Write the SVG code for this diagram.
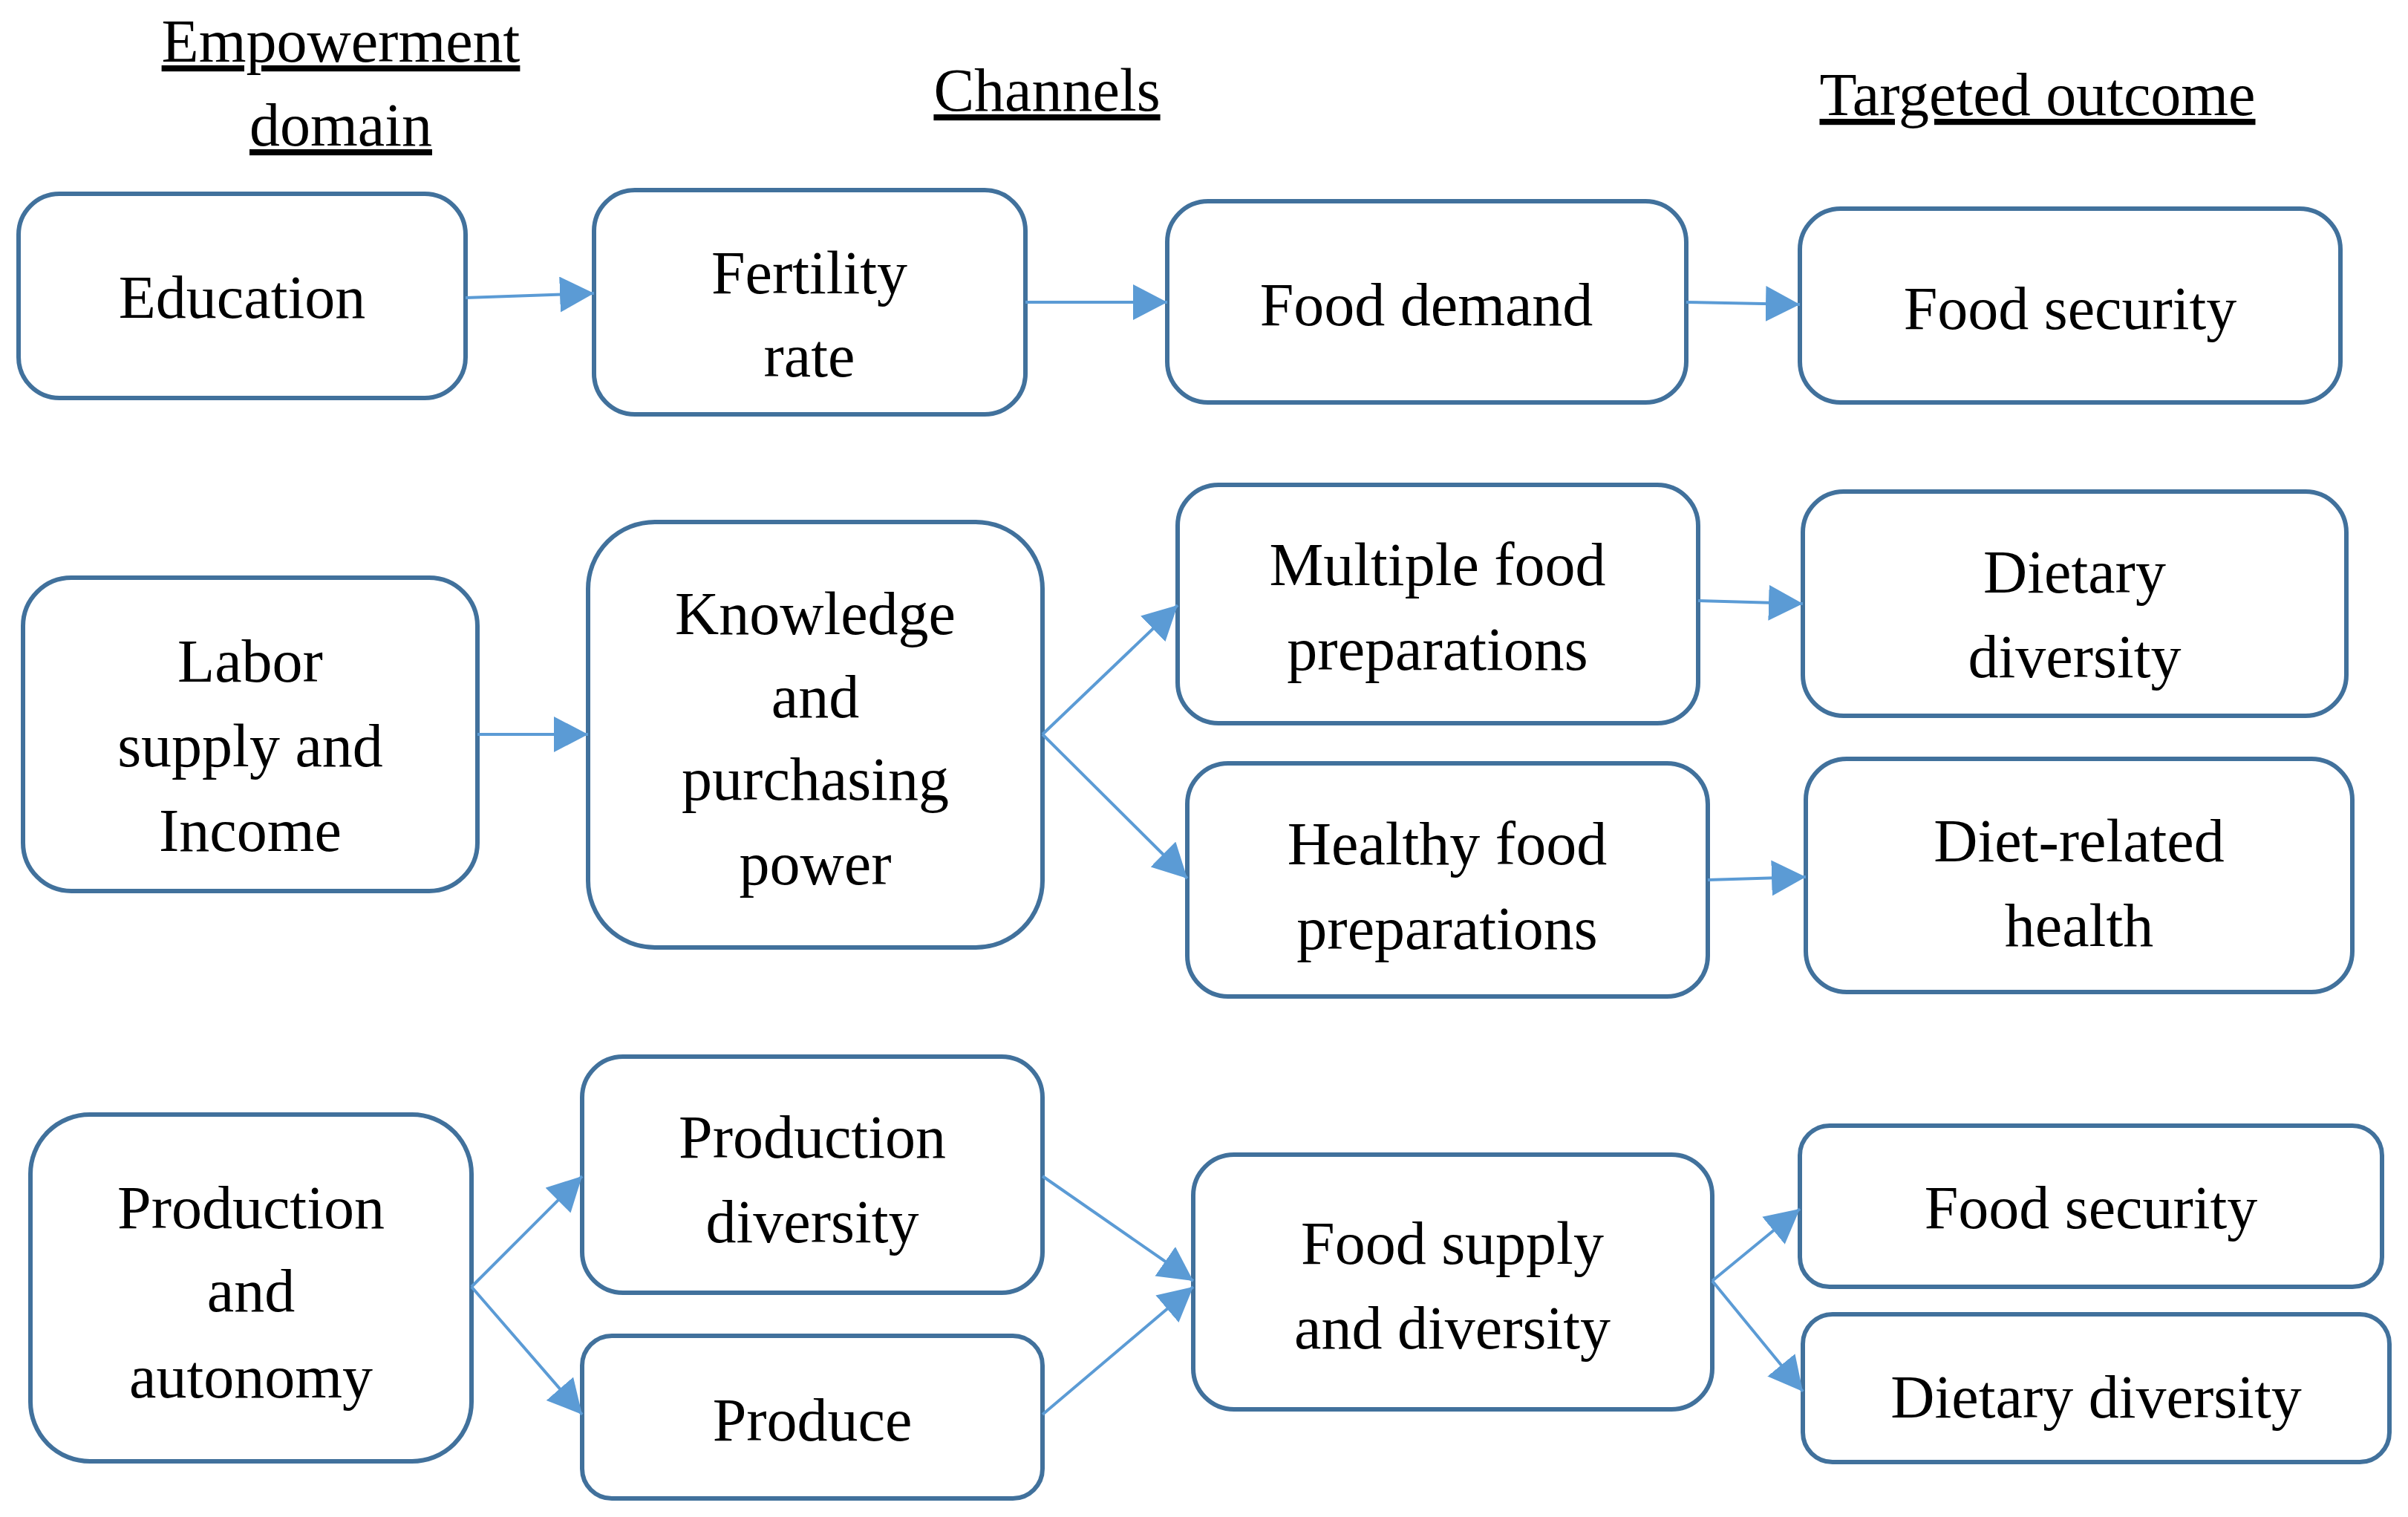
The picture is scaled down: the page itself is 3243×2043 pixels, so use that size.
<svg xmlns="http://www.w3.org/2000/svg" width="3243" height="2043" viewBox="0 0 3243 2043">
<style>
.b{fill:#fff;stroke:#41719c;stroke-width:6}
.t{font-family:"Liberation Serif",serif;font-size:82px;fill:#000;text-anchor:middle}
.h{font-family:"Liberation Serif",serif;font-size:82px;fill:#000;text-anchor:middle;text-decoration:underline}
.c line{stroke:#5b9bd5;stroke-width:4;marker-end:url(#a)}
</style>
<defs><marker id="a" markerUnits="userSpaceOnUse" markerWidth="50" markerHeight="50" refX="46" refY="24" orient="auto"><path d="M0,0L46,24L0,48z" fill="#5b9bd5"/></marker></defs>
<rect width="3243" height="2043" fill="#fff"/>
<g id="headers">
<text class="h" x="459" y="83">Empowerment</text>
<text class="h" x="459" y="196">domain</text>
<text class="h" x="1410" y="149">Channels</text>
<text class="h" x="2744" y="155">Targeted outcome</text>
</g>
<g id="n1"><rect class="b" x="25" y="261" width="602" height="275" rx="55"/><text class="t" x="326" y="428">Education</text></g>
<g id="n2"><rect class="b" x="800" y="256" width="581" height="302" rx="55"/><text class="t" x="1090" y="395">Fertility</text><text class="t" x="1090" y="507">rate</text></g>
<g id="n3"><rect class="b" x="1572" y="271" width="699" height="271" rx="55"/><text class="t" x="1921" y="438">Food demand</text></g>
<g id="n4"><rect class="b" x="2424" y="281" width="728" height="261" rx="55"/><text class="t" x="2788" y="443">Food security</text></g>
<g id="n5"><rect class="b" x="31" y="778" width="612" height="422" rx="65"/><text class="t" x="337" y="918">Labor</text><text class="t" x="337" y="1032">supply and</text><text class="t" x="337" y="1146">Income</text></g>
<g id="n6"><rect class="b" x="792" y="703" width="612" height="573" rx="90"/><text class="t" x="1098" y="854">Knowledge</text><text class="t" x="1098" y="966">and</text><text class="t" x="1098" y="1077">purchasing</text><text class="t" x="1098" y="1191">power</text></g>
<g id="n7"><rect class="b" x="1586" y="653" width="701" height="321" rx="55"/><text class="t" x="1936" y="788">Multiple food</text><text class="t" x="1936" y="902">preparations</text></g>
<g id="n8"><rect class="b" x="2428" y="662" width="732" height="302" rx="55"/><text class="t" x="2794" y="798">Dietary</text><text class="t" x="2794" y="912">diversity</text></g>
<g id="n9"><rect class="b" x="1599" y="1028" width="701" height="314" rx="55"/><text class="t" x="1949" y="1164">Healthy food</text><text class="t" x="1949" y="1278">preparations</text></g>
<g id="n10"><rect class="b" x="2432" y="1022" width="736" height="314" rx="55"/><text class="t" x="2800" y="1160">Diet-related</text><text class="t" x="2800" y="1274">health</text></g>
<g id="n11"><rect class="b" x="41" y="1501" width="594" height="467" rx="80"/><text class="t" x="338" y="1654">Production</text><text class="t" x="338" y="1766">and</text><text class="t" x="338" y="1882">autonomy</text></g>
<g id="n12"><rect class="b" x="784" y="1423" width="620" height="318" rx="55"/><text class="t" x="1094" y="1559">Production</text><text class="t" x="1094" y="1673">diversity</text></g>
<g id="n13"><rect class="b" x="784" y="1799" width="620" height="219" rx="40"/><text class="t" x="1094" y="1940">Produce</text></g>
<g id="n14"><rect class="b" x="1607" y="1555" width="699" height="343" rx="55"/><text class="t" x="1956" y="1702">Food supply</text><text class="t" x="1956" y="1816">and diversity</text></g>
<g id="n15"><rect class="b" x="2424" y="1516" width="784" height="217" rx="40"/><text class="t" x="2816" y="1654">Food security</text></g>
<g id="n16"><rect class="b" x="2428" y="1770" width="790" height="199" rx="40"/><text class="t" x="2823" y="1909">Dietary diversity</text></g>
<g class="c" id="connectors">
<line x1="627" y1="401" x2="800" y2="395"/>
<line x1="1381" y1="407" x2="1572" y2="407"/>
<line x1="2271" y1="407" x2="2424" y2="410"/>
<line x1="643" y1="989" x2="792" y2="989"/>
<line x1="1404" y1="989" x2="1586" y2="815"/>
<line x1="1404" y1="989" x2="1599" y2="1183"/>
<line x1="2287" y1="809" x2="2428" y2="813"/>
<line x1="2300" y1="1185" x2="2432" y2="1181"/>
<line x1="635" y1="1733" x2="784" y2="1584"/>
<line x1="635" y1="1733" x2="784" y2="1905"/>
<line x1="1404" y1="1584" x2="1607" y2="1725"/>
<line x1="1404" y1="1905" x2="1607" y2="1733"/>
<line x1="2306" y1="1725" x2="2424" y2="1628"/>
<line x1="2306" y1="1725" x2="2428" y2="1874"/>
</g>
</svg>
